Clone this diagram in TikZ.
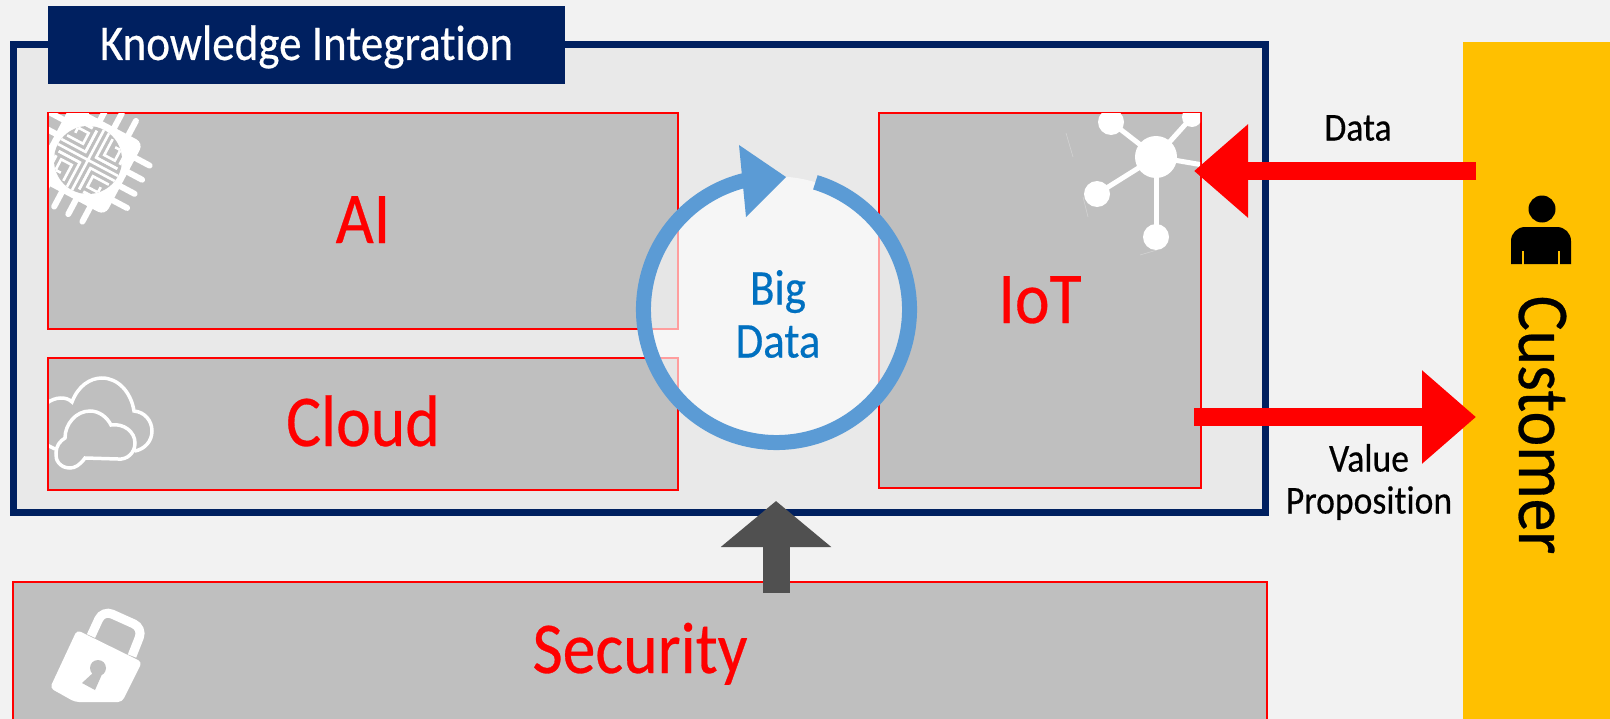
\documentclass[tikz,border=0pt]{standalone}
\usepackage{fontspec}
\setmainfont[FakeStretch=0.9, FakeBold=0.4, Ligatures=NoCommon]{Carlito}
\usetikzlibrary{arrows.meta}
\usetikzlibrary{positioning}

\definecolor{navyblue}{HTML}{002060}
\definecolor{pagegrey}{HTML}{F2F2F2}
\definecolor{framegrey}{HTML}{E9E9E9}
\definecolor{boxgrey}{HTML}{BFBFBF}
\definecolor{ringblue}{HTML}{5B9BD5}
\definecolor{textblue}{HTML}{0070C0}
\definecolor{customeryellow}{HTML}{FFC000}
\definecolor{upgrey}{HTML}{505050}

\tikzset{
    techbox/.style={draw=red, line width=2bp, fill=boxgrey, text=red, inner sep=0pt, outer sep=0pt,
                    text height=44bp, text depth=0pt, font=\fontsize{73bp}{78bp}\selectfont},
    flowarrow/.style={draw=red, line width=18bp, -{Triangle[length=54bp, width=90bp]}},
    flowlabel/.style={align=center, inner sep=0pt, font=\fontsize{39.6bp}{42bp}\selectfont},
    iconline/.style={draw=white, line width=5bp, line cap=round},
    cloudline/.style={draw=white, line width=3.5bp, line cap=round},
    mazeline/.style={draw=white, line width=2.6bp},
}

\begin{document}
\begin{tikzpicture}[x=1bp, y=-1bp]
    \useasboundingbox[fill=pagegrey] (0,0) rectangle (1610,719);

    \node[draw=navyblue, line width=7bp, fill=framegrey, minimum width=1251.5bp, minimum height=468bp, outer sep=0pt] (frame) at (639.75,278.5) {};
    \node[fill=navyblue, text=white, minimum width=517bp, minimum height=77.5bp, inner sep=0pt, text height=30bp, text depth=0pt,
          font=\fontsize{50bp}{54bp}\selectfont] (title) at (306.5,45) {Knowledge Integration};

    \node[techbox, minimum width=630bp, minimum height=216bp] (ai)    at (363,221) {AI};
    \node[techbox, minimum width=630bp, minimum height=132bp] (cloud) at (363,424) {Cloud};
    \node[techbox, minimum width=322bp, minimum height=375bp, text height=45bp] (iot) at (1040,300.5) {IoT};
    \node[techbox, minimum width=1254bp, minimum height=141bp, text height=42bp] (security) at (640,652) {Security};
    \node[fill=customeryellow, rotate=-90, minimum width=766bp, minimum height=156bp, inner sep=0pt,
          text height=44bp, text depth=0pt, font=\fontsize{73bp}{78bp}\selectfont] (customer) at (1541,425) {Customer};

    % chip
    \begin{scope}
        \clip (49,114) rectangle (677,328);
        \begin{scope}[shift={(88,160)}, rotate=-28]
            \fill[white, rounded corners=8bp] (-41,-41) rectangle (41,41);
            \foreach \pin in {-24,-8,8,24} {
                \draw[iconline, line width=6bp] (40,\pin) -- (57,\pin);
                \draw[iconline, line width=6bp] (\pin,40) -- (\pin,57);
                \draw[iconline, line width=6bp] (-40,\pin) -- (-57,\pin);
                \draw[iconline, line width=6bp] (\pin,-40) -- (\pin,-57);
            }
            \fill[boxgrey] (0,0) circle[radius=34bp];
            \begin{scope}
                \clip (0,0) circle[radius=34bp];
                \draw[mazeline] (-36,0) -- (36,0) (0,-36) -- (0,36);
                \foreach \ang in {0,90,180,270} {
                    \begin{scope}[rotate=\ang]
                        \draw[mazeline]
                            (6,-36) -- (6,-6) -- (30,-6)
                            (12,-30) -- (12,-12) -- (24,-12) -- (24,-24) -- (18,-24)
                            (18,-36) -- (30,-36) -- (30,-12) -- (36,-12)
                            (6,6) -- (6,30);
                    \end{scope}
                }
            \end{scope}
        \end{scope}
    \end{scope}

    % clouds
    \begin{scope}
        \clip (49,359) rectangle (677,489);
        \draw[cloudline]
            (47,403) .. controls (55,397) and (66,396) .. (72,402)
            .. controls (78,386) and (90,378) .. (102,378)
            .. controls (118,378) and (131,392) .. (134,411)
            .. controls (145,412) and (152,421) .. (152,431)
            .. controls (152,441) and (145,449) .. (135,451);
        \draw[cloudline] (47,445) -- (55,449);
        \draw[cloudline]
            (65,438) .. controls (65,424) and (76,411) .. (90,411)
            .. controls (99,411) and (107,417) .. (111,425)
            .. controls (124,423) and (135,432) .. (135,443)
            .. controls (135,453) and (127,460) .. (118,459)
            -- (85,458)
            .. controls (80,465) and (75,468) .. (70,468)
            .. controls (60,468) and (55,460) .. (56,453)
            .. controls (56,446) and (60,441) .. (65,438) -- cycle;
    \end{scope}

    % network
    \begin{scope}
        \clip (880,114) rectangle (1200,487);
        \coordinate (hub) at (1156,157);
        \foreach \px/\py/\pr in {1111/122/13, 1192/117/10, 1097/194/13, 1156/237/13} {
            \draw[iconline] (hub) -- (\px,\py);
            \fill[white] (\px,\py) circle[radius=\pr*1bp];
        }
        \draw[iconline] (hub) -- (1203,165);
        \fill[white] (hub) circle[radius=21bp];
        \draw[white, opacity=0.3, line width=0.6bp] (1066,133) -- (1073,157) (1083,197) -- (1088,217) (1140,255) -- (1157,250);
    \end{scope}

    % lock
    \fill[white, rounded corners=4bp] (77,630) -- (142,662) -- (122,702) -- (75,702) -- (50,688) -- cycle;
    \draw[white, line width=9bp, rounded corners=10bp] (91,636) -- (103,610) -- (143,628) -- (132,656);
    \fill[boxgrey] (98,668) circle[radius=8bp] (94,672) -- (82,683) -- (95,690) -- (103,672) -- cycle;

    % person
    \fill (1542,209) circle[radius=13.5bp];
    \fill (1511,264) [rounded corners=14bp] -- (1511,227) -- (1571,227) [sharp corners] -- (1571,264) -- cycle;
    \draw[customeryellow, line width=2.6bp] (1523,251) -- (1523,265) (1559,251) -- (1559,265);

    % big data
    \node[circle, fill=white, fill opacity=0.62, minimum size=266bp, inner sep=0pt, outer sep=0pt] (bigdata) at (776.5,309.5) {};
    \node[text=textblue, inner sep=0pt, align=center, font=\fontsize{50bp}{53bp}\selectfont] (bigdatalabel) at (778,314) {Big\\Data};
    \draw[ringblue, line width=15bp] (bigdata.73) arc[start angle=73, end angle=-256, radius=133bp];
    \coordinate (headtop) at (739,145);
    \coordinate (headtip) at (786,177);
    \coordinate (headbottom) at (746,217);
    \fill[ringblue] (headtop) -- (headtip) -- (headbottom) -- cycle;

    % arrows
    \coordinate (datastart) at (1476,171);
    \coordinate (datatip)   at (1194,171);
    \coordinate (valuestart) at (1194,417);
    \coordinate (valuetip)   at (1476,417);
    \coordinate (upstart) at (776,593);
    \coordinate (uptip)   at (776,501);
    \draw[flowarrow] (datastart) -- (datatip);
    \draw[flowarrow] (valuestart) -- (valuetip);
    \draw[draw=upgrey, line width=27bp, -{Triangle[length=46bp, width=108bp]}] (upstart) -- (uptip);

    \node[flowlabel] (datalabel)  at (1358,128) {Data};
    \node[flowlabel] (valuelabel) at (1369,482) {Value\\Proposition};
\end{tikzpicture}
\end{document}
